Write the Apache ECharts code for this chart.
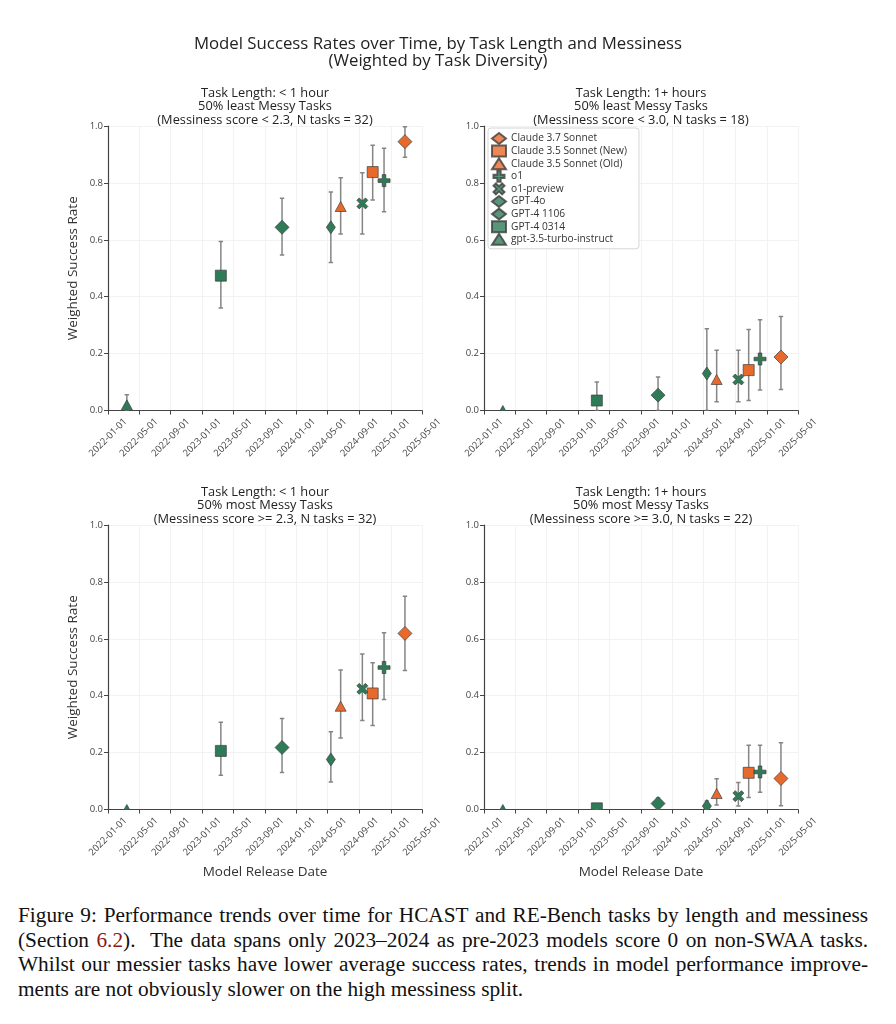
<!DOCTYPE html>
<html>
<head>
<meta charset="utf-8">
<script src="https://cdn.jsdelivr.net/npm/echarts@6/dist/echarts.min.js"></script>
<style>
  html, body { margin: 0; padding: 0; background: #fff; }
  #chart { position: absolute; left: 0; top: 0; width: 896px; height: 895px; }
  #caption { position: absolute; left: 18px; top: 903px; width: 850px;
    font-family: 'Liberation Serif', 'Times New Roman', serif; font-size: 21.3px; line-height: 24.6px; color: #111; }
  #caption .ln { white-space: nowrap; text-align: justify; text-align-last: justify; }
  #caption .last { white-space: nowrap; text-align: left; }
  #caption .ref { color: #8b1a1a; }
</style>
</head>
<body>
<div id="chart"></div>
<div id="caption">
  <div class="ln">Figure 9: Performance trends over time for HCAST and RE-Bench tasks by length and messiness</div>
  <div class="ln">(Section <span class="ref">6.2</span>).&nbsp; The data spans only 2023–2024 as pre-2023 models score 0 on non-SWAA tasks.</div>
  <div class="ln">Whilst our messier tasks have lower average success rates, trends in model performance improve-</div>
  <div class="last">ments are not obviously slower on the high messiness split.</div>
</div>
<script>
// ---------------- DATA ----------------
const models = ['Claude 3.7 Sonnet', 'Claude 3.5 Sonnet (New)', 'Claude 3.5 Sonnet (Old)', 'o1', 'o1-preview',
  'GPT-4o', 'GPT-4 1106', 'GPT-4 0314', 'gpt-3.5-turbo-instruct'];
const releaseDates = ['2025-02-24', '2024-10-22', '2024-06-20', '2024-12-05', '2024-09-12',
  '2024-05-13', '2023-11-06', '2023-03-14', '2022-03-15'];
const tickDates = ['2022-01-01', '2022-05-01', '2022-09-01', '2023-01-01', '2023-05-01', '2023-09-01',
  '2024-01-01', '2024-05-01', '2024-09-01', '2025-01-01', '2025-05-01'];

const panelTitles = [
  ['Task Length: < 1 hour', '50% least Messy Tasks', '(Messiness score < 2.3, N tasks = 32)'],
  ['Task Length: 1+ hours', '50% least Messy Tasks', '(Messiness score < 3.0, N tasks = 18)'],
  ['Task Length: < 1 hour', '50% most Messy Tasks', '(Messiness score >= 2.3, N tasks = 32)'],
  ['Task Length: 1+ hours', '50% most Messy Tasks', '(Messiness score >= 3.0, N tasks = 22)']
];

// success rate, lower and upper error bounds, in models order
const rateShortClean = [0.945, 0.838, 0.717, 0.808, 0.728, 0.644, 0.644, 0.474, 0.020];
const lowShortClean  = [0.890, 0.740, 0.620, 0.699, 0.620, 0.520, 0.547, 0.360, 0.000];
const highShortClean = [0.997, 0.932, 0.818, 0.922, 0.836, 0.768, 0.746, 0.594, 0.055];

const rateLongClean = [0.188, 0.142, 0.109, 0.181, 0.109, 0.130, 0.054, 0.035, 0.000];
const lowLongClean  = [0.074, 0.035, 0.031, 0.072, 0.031, 0.000, 0.000, 0.000, 0.000];
const highLongClean = [0.330, 0.285, 0.212, 0.319, 0.212, 0.287, 0.118, 0.100, 0.000];

const rateShortMessy = [0.619, 0.408, 0.363, 0.499, 0.424, 0.176, 0.218, 0.206, 0.000];
const lowShortMessy  = [0.489, 0.295, 0.251, 0.387, 0.313, 0.097, 0.130, 0.120, 0.000];
const highShortMessy = [0.750, 0.516, 0.490, 0.621, 0.547, 0.273, 0.320, 0.307, 0.000];

const rateLongMessy = [0.109, 0.129, 0.056, 0.132, 0.047, 0.012, 0.021, 0.004, 0.000];
const lowLongMessy  = [0.013, 0.042, 0.016, 0.061, 0.012, 0.000, 0.000, 0.000, 0.000];
const highLongMessy = [0.235, 0.226, 0.108, 0.226, 0.095, 0.030, 0.040, 0.010, 0.000];

// ---------------- STYLE ----------------
const ORANGE = '#e8692c';
const GREEN = '#2f7a57';
const EDGE = '#3d3d3d';
const FONT = "'Open Sans', 'Noto Sans', sans-serif";
const PLUS_PTS = [[3.5,0],[6.5,0],[6.5,3.5],[10,3.5],[10,6.5],[6.5,6.5],[6.5,10],[3.5,10],[3.5,6.5],[0,6.5],[0,3.5],[3.5,3.5]];
const CROSS_PTS = [[2.2,0],[5,2.8],[7.8,0],[10,2.2],[7.2,5],[10,7.8],[7.8,10],[5,7.2],[2.2,10],[0,7.8],[2.8,5],[0,2.2]];
const DIAMOND_PTS = [[5,0],[10,5],[5,10],[0,5]];
const RECT_PTS = [[0,0],[10,0],[10,10],[0,10]];
const TRI_PTS = [[5,0],[10,10],[0,10]];
function toPath(pts) { return 'path://M' + pts.map(p => p[0] + ',' + p[1]).join(' L') + ' Z'; }

const markerStyle = {
  'Claude 3.7 Sonnet': { pts: DIAMOND_PTS, symbol: 'diamond', size: [14, 14], color: ORANGE },
  'Claude 3.5 Sonnet (New)': { pts: RECT_PTS, symbol: 'rect', size: [11, 11], color: ORANGE },
  'Claude 3.5 Sonnet (Old)': { pts: TRI_PTS, symbol: 'triangle', size: [11, 10], color: ORANGE },
  'o1': { pts: PLUS_PTS, symbol: toPath(PLUS_PTS), size: [12, 12], color: GREEN },
  'o1-preview': { pts: CROSS_PTS, symbol: toPath(CROSS_PTS), size: [11, 11], color: GREEN },
  'GPT-4o': { pts: DIAMOND_PTS, symbol: 'diamond', size: [9, 13], color: GREEN },
  'GPT-4 1106': { pts: DIAMOND_PTS, symbol: 'diamond', size: [14, 14], color: GREEN },
  'GPT-4 0314': { pts: RECT_PTS, symbol: 'rect', size: [11, 11], color: GREEN },
  'gpt-3.5-turbo-instruct': { pts: TRI_PTS, symbol: 'triangle', size: [11, 10], color: GREEN }
};

const panels = [
  { rate: rateShortClean, low: lowShortClean, high: highShortClean },
  { rate: rateLongClean, low: lowLongClean, high: highLongClean },
  { rate: rateShortMessy, low: lowShortMessy, high: highShortMessy },
  { rate: rateLongMessy, low: lowLongMessy, high: highLongMessy }
];
const gridBoxes = [
  { left: 108, top: 126 }, { left: 484, top: 126 },
  { left: 108, top: 525 }, { left: 484, top: 525 }
];
const GW = 314, GH = 284.5;

function toTs(s) { const p = s.split('-').map(Number); return Date.UTC(p[0], p[1] - 1, p[2]); }
function fmtDate(v) {
  const d = new Date(v);
  const mm = String(d.getUTCMonth() + 1).padStart(2, '0');
  const dd = String(d.getUTCDate()).padStart(2, '0');
  return d.getUTCFullYear() + '-' + mm + '-' + dd;
}
const tickTs = tickDates.map(toTs);
const releaseTs = releaseDates.map(toTs);

const chart = echarts.init(document.getElementById('chart'), null, { renderer: 'canvas' });

const grids = [], xAxes = [], yAxes = [], series = [], graphics = [];
panels.forEach((pn, p) => {
  const g = gridBoxes[p];
  grids.push({ left: g.left, top: g.top, width: GW, height: GH, containLabel: false });
  xAxes.push({
    type: 'value', gridIndex: p, min: tickTs[0], max: tickTs[tickTs.length - 1],
    name: p >= 2 ? 'Model Release Date' : '', nameLocation: 'middle', nameGap: 56,
    nameTextStyle: { fontFamily: FONT, fontSize: 13.5, color: '#333' },
    axisLine: { show: true, onZero: false, lineStyle: { color: '#444', width: 1.2 } },
    axisTick: { show: true, customValues: tickTs, length: 4, lineStyle: { color: '#444', width: 1 } },
    axisLabel: { customValues: tickTs, formatter: fmtDate, rotate: 45, align: 'center', verticalAlign: 'middle',
      margin: 27, fontFamily: FONT, fontSize: 9.5, color: '#444', hideOverlap: false,
      showMinLabel: true, showMaxLabel: true },
    splitLine: { show: true, lineStyle: { color: '#efefef', width: 0.8 } }
  });
  yAxes.push({
    type: 'value', gridIndex: p, min: 0, max: 1, interval: 0.2,
    name: (p % 2 === 0) ? 'Weighted Success Rate' : '', nameLocation: 'middle', nameGap: 28,
    nameTextStyle: { fontFamily: FONT, fontSize: 13.5, color: '#333' },
    axisLine: { show: true, onZero: false, lineStyle: { color: '#444', width: 1.2 } },
    axisTick: { show: true, length: 4, lineStyle: { color: '#444', width: 1 } },
    axisLabel: { formatter: v => v.toFixed(1), margin: 5, fontFamily: FONT, fontSize: 9.5, color: '#444' },
    splitLine: { show: true, lineStyle: { color: '#efefef', width: 0.8 } }
  });

  // error bars
  series.push({
    type: 'custom', xAxisIndex: p, yAxisIndex: p, z: 2, silent: true, clip: true,
    encode: { x: 0, y: [1, 2] },
    data: models.map((m, i) => [releaseTs[i], pn.low[i], pn.high[i]]),
    renderItem: function (params, api) {
      const x = api.value(0);
      const lo = api.coord([x, api.value(1)]);
      const hi = api.coord([x, api.value(2)]);
      if (Math.abs(lo[1] - hi[1]) < 0.5) return { type: 'group', children: [] };
      const st = { stroke: '#858585', lineWidth: 1.5 };
      return {
        type: 'group', children: [
          { type: 'line', shape: { x1: lo[0], y1: lo[1], x2: hi[0], y2: hi[1] }, style: st },
          { type: 'line', shape: { x1: lo[0] - 2.2, y1: lo[1], x2: lo[0] + 2.2, y2: lo[1] }, style: st },
          { type: 'line', shape: { x1: hi[0] - 2.2, y1: hi[1], x2: hi[0] + 2.2, y2: hi[1] }, style: st }
        ]
      };
    }
  });

  // markers (clipped to the plot area like the original)
  series.push({
    type: 'custom', xAxisIndex: p, yAxisIndex: p, z: 3, silent: true, clip: true,
    encode: { x: 0, y: 1 },
    data: models.map((m, i) => [releaseTs[i], pn.rate[i], i]),
    renderItem: function (params, api) {
      const c = api.coord([api.value(0), api.value(1)]);
      const ms = markerStyle[models[api.value(2)]];
      const w = ms.size[0], h = ms.size[1];
      const pts = ms.pts.map(q => [c[0] - w / 2 + q[0] * w / 10, c[1] - h / 2 + q[1] * h / 10]);
      return {
        type: 'polygon', shape: { points: pts },
        style: { fill: ms.color, stroke: EDGE, lineWidth: 0.7 }
      };
    }
  });

  // panel titles
  const cx = g.left + GW / 2;
  const baseY = p < 2 ? 93 : 492;
  panelTitles[p].forEach((t, k) => {
    graphics.push({
      type: 'text', x: cx, y: baseY + k * 13.5,
      style: { text: t, align: 'center', verticalAlign: 'middle', fontFamily: FONT, fontSize: 12.8, fill: '#222' }
    });
  });
});

// legend entries (symbols only, no data)
models.forEach((m) => {
  const ms = markerStyle[m];
  series.push({
    type: 'scatter', name: m, xAxisIndex: 1, yAxisIndex: 1, silent: true,
    symbol: ms.symbol, symbolSize: ms.size,
    itemStyle: { color: ms.color, borderColor: EDGE, borderWidth: 0.7 },
    data: []
  });
});

graphics.push({
  type: 'text', x: 438, y: 44,
  style: { text: 'Model Success Rates over Time, by Task Length and Messiness', align: 'center', verticalAlign: 'middle',
    fontFamily: FONT, fontSize: 16.8, fill: '#222' }
});
graphics.push({
  type: 'text', x: 438, y: 61.5,
  style: { text: '(Weighted by Task Diversity)', align: 'center', verticalAlign: 'middle',
    fontFamily: FONT, fontSize: 16.8, fill: '#222' }
});

chart.setOption({
  animation: false,
  backgroundColor: '#ffffff',
  grid: grids,
  xAxis: xAxes,
  yAxis: yAxes,
  legend: {
    data: models, orient: 'vertical', left: 488, top: 128, selectedMode: false,
    itemWidth: 14, itemHeight: 11, itemGap: -0.4, padding: [4, 12, 3, 3],
    backgroundColor: '#ffffff', borderColor: '#d6d6d6', borderWidth: 1, borderRadius: 3,
    textStyle: { fontFamily: FONT, fontSize: 10.2, lineHeight: 11, color: '#333', padding: [0, 0, 0, 0] }
  },
  graphic: graphics,
  series: series
});
</script>
</body>
</html>
